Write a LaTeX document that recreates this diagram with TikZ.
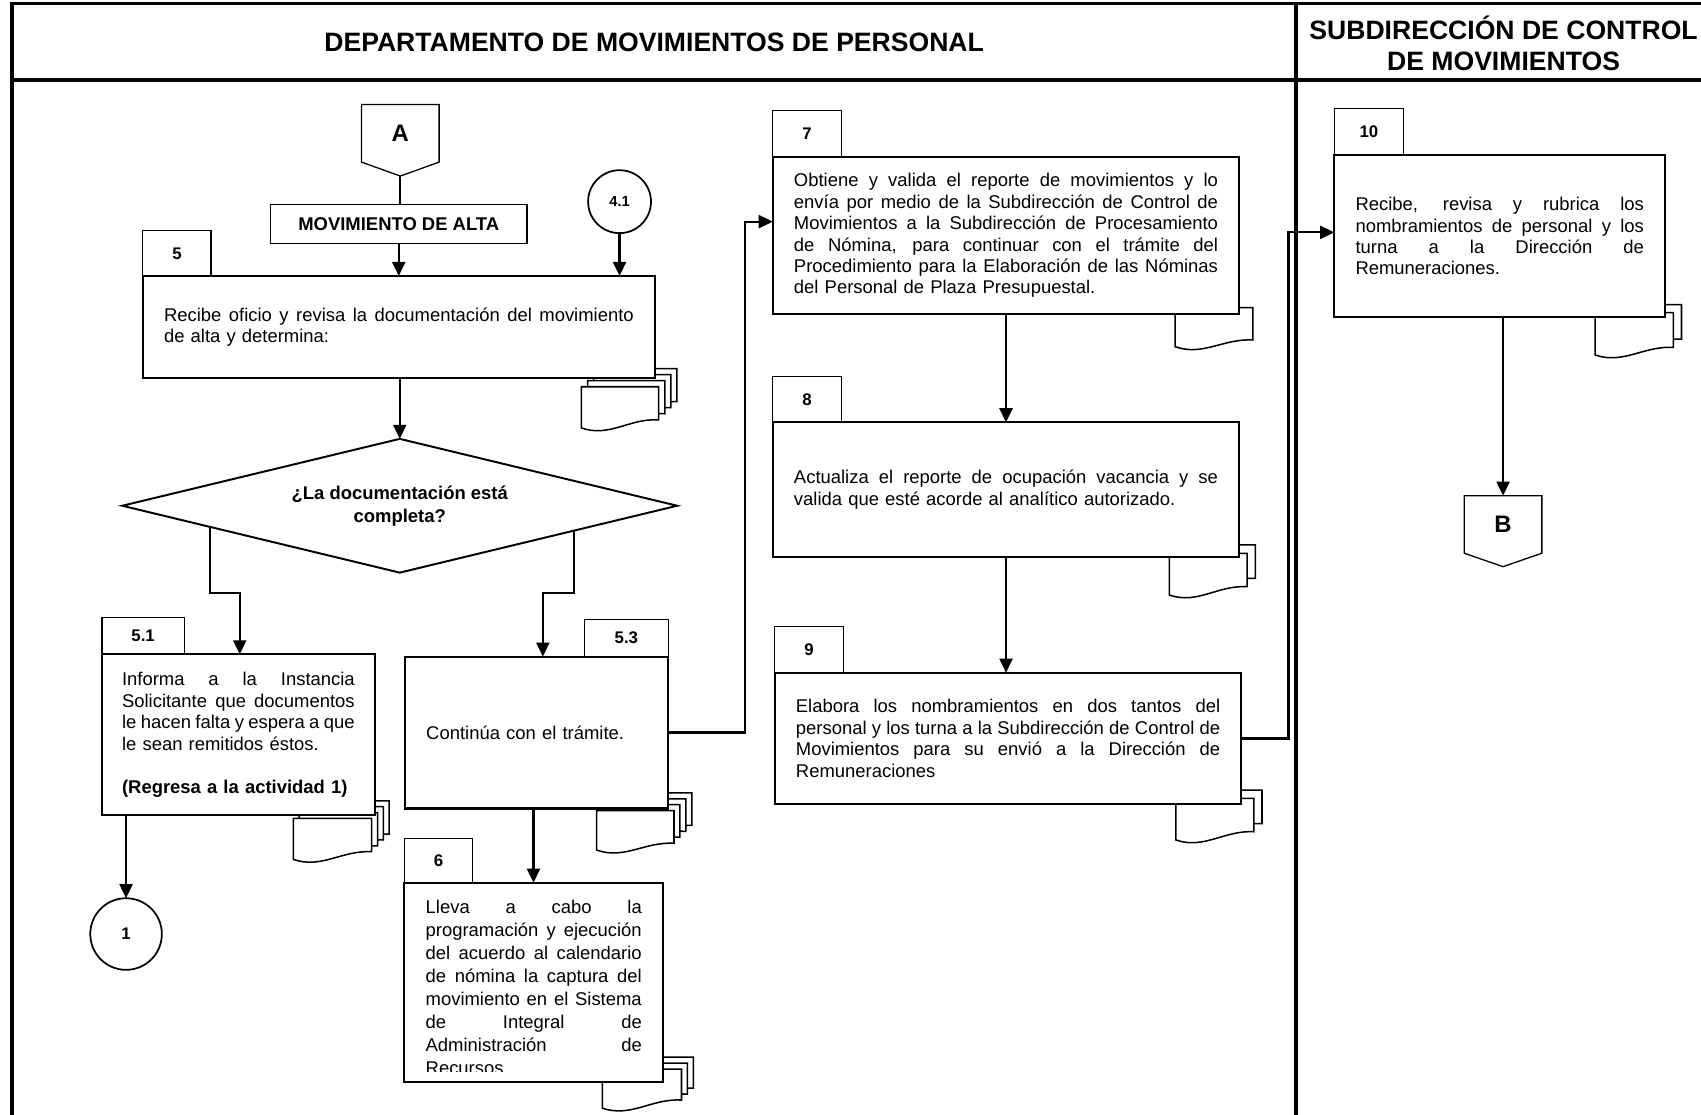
\documentclass[tikz,border=0pt]{standalone}
\usepackage{fontspec}
\setmainfont{Liberation Sans}
\usetikzlibrary{arrows.meta,calc,shapes.geometric}

% type sizes
\newcommand\fBody{\fontsize{17}{19.8}\selectfont}
\newcommand\fBodyLoose{\fontsize{17}{21.2}\selectfont}
\newcommand\fBold{\fontsize{17}{21.3}\selectfont\bfseries}
\newcommand\fTab{\fontsize{15.5}{18}\selectfont\bfseries}
\newcommand\fSmall{\fontsize{13.5}{16}\selectfont\bfseries}
\newcommand\fMark{\fontsize{22}{26}\selectfont\bfseries}
\newcommand\fHead{\fontsize{24.5}{29}\selectfont\bfseries}
% a fully justified line, as wide as the text of its box
\newlength\jlen
\newcommand\jline[1]{\leavevmode\hbox to\jlen{\spaceskip=0.278em plus 1fill minus 0.1em\relax #1}}

\tikzset{
  frameline/.style={line width=3.2pt},
  conn/.style={line width=2pt},
  flow/.style={conn,-{Triangle[length=13pt,width=12pt]}},
  textw/.style={text width=#1,execute at begin node={\setlength{\jlen}{#1}}},
  procbox/.style={rectangle,draw,fill=white,line width=2pt,outer sep=0pt,
    inner xsep=19.5pt,inner ysep=0pt,align=left,font=\fBody},
  tabbox/.style={rectangle,draw,line width=1.1pt,outer sep=0pt,inner sep=0pt,font=\fTab},
  titlebox/.style={rectangle,draw,fill=white,line width=1.3pt,outer sep=0pt,inner sep=0pt,font=\fBold},
  decision/.style={diamond,aspect=4.15,draw,fill=white,line width=1.8pt,outer sep=0pt,inner sep=0pt,
    align=center,font=\fBold},
  linkcircle/.style={circle,draw,fill=white,line width=1.6pt,outer sep=0pt,inner sep=0pt},
  offpage/.style={rectangle,outer sep=0pt,inner sep=0pt,minimum width=71.6pt,
    minimum height=53pt,font=\fMark},
  offline/.style={line width=1.2pt,line join=miter},
  sheetline/.style={draw,fill=white,line width=1.4pt},
}

% one sheet with a wavy lower edge; #1,#2 top-left corner, #3 width,
% #4 height at the right side, #5 height at the left side
\newcommand\sheet[5]{%
  \begin{scope}[shift={(#1,#2)}]
    \path[sheetline] (0,0) -- (#3,0) -- (#3,#4)
      .. controls ({0.62*#3},{#4-1.5}) and ({0.36*#3},{#5+9}) .. (0,#5) -- cycle;
  \end{scope}}
% a pile of sheets: #1 number of sheets, #2 offset between sheets,
% #3..#7 as for \sheet, for the front sheet
\newcommand\sheetstack[7]{%
  \foreach \k in {#1,...,1}{%
    \pgfmathsetmacro\sx{#3+(\k-1)*#2}%
    \pgfmathsetmacro\sy{#4-(\k-1)*#2}%
    \sheet{\sx}{\sy}{#5}{#6}{#7}%
  }}

\begin{document}
\begin{tikzpicture}[x=1pt,y=-1pt]
\useasboundingbox[fill=white] (0,0) rectangle (1568,1027);

% document piles behind the activity boxes
\sheetstack{4}{5.6}{536}{356.5}{71.2}{30.5}{38}
\sheetstack{4}{5.4}{270.4}{754.4}{72.2}{30.7}{37.8}
\sheetstack{4}{5.5}{550}{747.3}{71.3}{30}{36.3}
\sheetstack{3}{5.5}{555.2}{985.5}{73}{28.5}{36}
\sheetstack{1}{0}{1083.2}{283.6}{71.6}{29.8}{36}
\sheetstack{2}{7.7}{1077.9}{510}{71.6}{30.8}{38.5}
\sheetstack{2}{7.5}{1084}{735.9}{71.8}{30.8}{38.4}
\sheetstack{2}{7.5}{1470.3}{288.2}{72.2}{32}{39}

% swimlane frame
\draw[frameline] (11,1040) -- (11,3.3) -- (1580,3.3);
\draw[frameline] (11,73.9) -- (1580,73.9);
\draw[frameline] (1194.6,3.3) -- (1194.6,1040);
\node[font=\fHead] (hdept) at (603,39) {DEPARTAMENTO DE MOVIMIENTOS DE PERSONAL};
\node[font=\fHead,align=center] (hsub) at (1386,40) {SUBDIRECCIÓN DE CONTROL\\DE MOVIMIENTOS};

% off-page connector A
\node[offpage] (A) at (369,122.9) {A};
\coordinate (Atip) at ($(A.south)+(0,12.9)$);
\draw[offline] (A.north west) -- (A.north east) -- (A.south east) -- (Atip) -- (A.south west) -- cycle;

\node[titlebox,minimum width=236.7pt,minimum height=35.6pt] (mov) at (367.55,206.5) {MOVIMIENTO DE ALTA};
\node[linkcircle,minimum size=58pt,font=\fSmall] (c41) at (571.1,185.9) {4.1};

% activity 5
\node[procbox,minimum width=472pt,minimum height=94.4pt,textw=433pt,anchor=north west]
  (b5) at (131.7,254.4)
  {\jline{Recibe oficio y revisa la documentación del movimiento}\\de alta y determina:};
\node[tabbox,minimum width=62.8pt,minimum height=41.7pt,anchor=south west] (t5) at (b5.north west) {5};

% decision
\node[decision,minimum width=511.5pt,minimum height=123.3pt] (dia) at (368.5,466.2)
  {¿La documentación está\\completa?};

% activity 5.1
\node[procbox,inner xsep=18.5pt,minimum width=251.5pt,minimum height=148.1pt,textw=214.5pt,anchor=north west]
  (b51) at (94,603.2)
  {\jline{Informa a la Instancia}\\\jline{Solicitante que documentos}\\\jline{le hacen falta y espera a que}\\le sean remitidos éstos.\\[19.8pt]{\bfseries (Regresa a la actividad 1)}};
\node[tabbox,minimum width=75.8pt,minimum height=34.2pt,anchor=south west] (t51) at (b51.north west) {5.1};
\node[linkcircle,minimum size=66pt,font=\fTab] (c1) at (116.2,861) {1};

% activity 5.3
\node[procbox,minimum width=242.6pt,minimum height=139.9pt,textw=203.6pt,anchor=north west]
  (b53) at (373.4,605.3) {Continúa con el trámite.};
\node[tabbox,minimum width=77.2pt,minimum height=34.3pt,anchor=south east] (t53) at (b53.north east) {5.3};

% activity 6 (its text runs past the lower edge and is cut)
\node[procbox,minimum width=238.2pt,minimum height=183.4pt,anchor=north west] (b6) at (372.7,813.7) {};
\node[tabbox,minimum width=63pt,minimum height=40.9pt,anchor=south west] (t6) at (b6.north west) {6};
\begin{scope}
  \clip (b6.north west) rectangle ($(b6.south east)+(0,-9)$);
  \node[inner sep=0pt,textw=199.2pt,align=left,font=\fBodyLoose,anchor=north west]
    (b6text) at ($(b6.north west)+(19.5,15.5)$)
    {\jline{Lleva a cabo la}\\\jline{programación y ejecución}\\\jline{del acuerdo al calendario}\\\jline{de nómina la captura del}\\\jline{movimiento en el Sistema}\\\jline{de Integral de}\\\jline{Administración de}\\Recursos};
\end{scope}

% activity 7
\node[procbox,minimum width=429.9pt,minimum height=145.4pt,textw=390.9pt,anchor=north west]
  (b7) at (712.4,144.4)
  {\jline{Obtiene y valida el reporte de movimientos y lo}\\
   \jline{envía por medio de la Subdirección de Control de}\\
   \jline{Movimientos a la Subdirección de Procesamiento}\\
   \jline{de Nómina, para continuar con el trámite del}\\
   \jline{Procedimiento para la Elaboración de las Nóminas}\\
   del Personal de Plaza Presupuestal.};
\node[tabbox,minimum width=63.2pt,minimum height=42.4pt,anchor=south west] (t7) at (b7.north west) {7};

% activity 8
\node[procbox,minimum width=429.9pt,minimum height=123.9pt,textw=390.9pt,anchor=north west]
  (b8) at (712.4,389.3)
  {\jline{Actualiza el reporte de ocupación vacancia y se}\\valida que esté acorde al analítico autorizado.};
\node[tabbox,minimum width=63.2pt,minimum height=42.1pt,anchor=south west] (t8) at (b8.north west) {8};

% activity 9
\node[procbox,minimum width=430.1pt,minimum height=121.4pt,textw=391.1pt,anchor=north west]
  (b9) at (714.2,620.1)
  {\jline{Elabora los nombramientos en dos tantos del}\\
   \jline{personal y los turna a la Subdirección de Control de}\\
   \jline{Movimientos para su envió a la Dirección de}\\
   Remuneraciones};
\node[tabbox,minimum width=63pt,minimum height=42.4pt,anchor=south west] (t9) at (b9.north west) {9};

% activity 10
\node[procbox,minimum width=304.9pt,minimum height=149.6pt,textw=265.9pt,anchor=north west]
  (b10) at (1230,142.9)
  {\jline{Recibe, revisa y rubrica los}\\\jline{nombramientos de personal y los}\\\jline{turna a la Dirección de}\\Remuneraciones.};
\node[tabbox,minimum width=63.7pt,minimum height=43pt,anchor=south west] (t10) at (b10.north west) {10};

% off-page connector B
\node[offpage] (B) at (1385.5,483.45) {B};
\coordinate (Btip) at ($(B.south)+(0,12.4)$);
\draw[offline] (B.north west) -- (B.north east) -- (B.south east) -- (Btip) -- (B.south west) -- cycle;

% connectors
\draw[conn] (Atip) -- (Atip |- mov.north);
\draw[flow] (mov.south) -- (mov.south |- b5.north);
\draw[flow] (c41.south) -- (c41.south |- b5.north);
\draw[flow] (dia.north |- b5.south) -- (dia.north);
\coordinate (dl) at ($(dia.west)!0.315!(dia.south)$);
\coordinate (dr) at ($(dia.east)!0.372!(dia.south)$);
\coordinate (jl) at (221,546.3);
\coordinate (jr) at (500.4,547);
\draw[flow] (dl) |- (jl) -- (jl |- b51.north);
\draw[flow] (dr) |- (jr) -- (jr |- b53.north);
\draw[flow] (c1.north |- b51.south) -- (c1.north);
\draw[flow] (b6.north |- b53.south) -- (b6.north);
\coordinate (j7) at (686.8,204.3);
\draw[flow] (b53.east) -| (j7) -- (j7 -| b7.west);
\draw[flow] (b7.south) -- (b8.north);
\draw[flow] (b8.south) -- (b8.south |- b9.north);
\coordinate (j10) at (1187.7,214.2);
\draw[flow] (b9.east) -| (j10) -- (j10 -| b10.west);
\draw[flow] (B.north |- b10.south) -- (B.north);
\end{tikzpicture}
\end{document}
